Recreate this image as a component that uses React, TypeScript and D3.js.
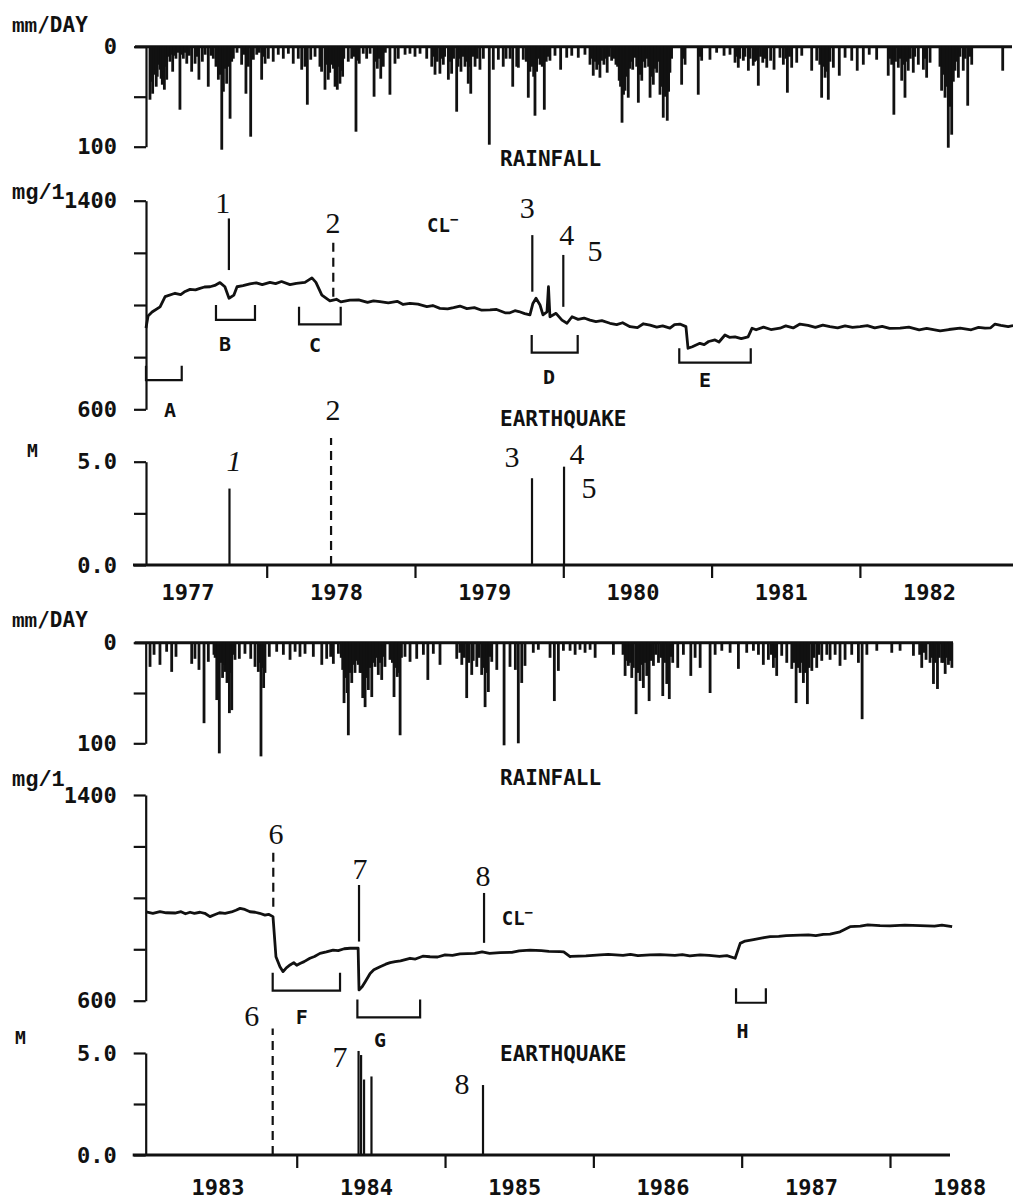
import React, { useEffect, useRef } from 'react';
import * as d3 from 'd3';

type Pt = [number, number];

// daily rainfall, [decimal year, mm/day]
const rain1977: Pt[] = [
  [1977.213, 53], [1977.231, 47], [1977.247, 20], [1977.262, 30], [1977.281, 23], [1977.296, 38], [1977.31, 43], [1977.326, 33],
  [1977.348, 15], [1977.366, 25], [1977.388, 12], [1977.415, 63], [1977.438, 12], [1977.461, 17], [1977.494, 25], [1977.517, 17],
  [1977.543, 33], [1977.566, 15], [1977.606, 40], [1977.64, 12], [1977.658, 20], [1977.674, 33], [1977.697, 103], [1977.73, 37],
  [1977.753, 72], [1977.775, 12], [1977.831, 18], [1977.86, 47], [1977.876, 20], [1977.892, 90], [1977.91, 13], [1977.933, 8],
  [1977.966, 33], [1977.989, 17], [1978.011, 12], [1978.044, 15], [1978.078, 8], [1978.112, 12], [1978.146, 7], [1978.179, 17],
  [1978.213, 12], [1978.236, 23], [1978.258, 20], [1978.274, 58], [1978.297, 13], [1978.326, 10], [1978.359, 20], [1978.393, 43],
  [1978.415, 33], [1978.438, 18], [1978.461, 40], [1978.476, 43], [1978.494, 37], [1978.512, 30], [1978.55, 15], [1978.573, 12],
  [1978.602, 85], [1978.624, 17], [1978.651, 7], [1978.674, 12], [1978.697, 7], [1978.724, 50], [1978.746, 22], [1978.769, 32],
  [1978.786, 20], [1978.831, 48], [1978.865, 17], [1978.887, 12], [1978.933, 8], [1978.966, 7], [1979.0, 10], [1979.034, 7],
  [1979.079, 12], [1979.113, 20], [1979.135, 28], [1979.168, 27], [1979.191, 18], [1979.225, 33], [1979.247, 27], [1979.281, 65],
  [1979.31, 25], [1979.337, 20], [1979.359, 37], [1979.376, 47], [1979.405, 20], [1979.438, 23], [1979.461, 12], [1979.501, 98],
  [1979.528, 23], [1979.562, 13], [1979.595, 20], [1979.614, 12], [1979.641, 12], [1979.659, 40], [1979.686, 20], [1979.697, 21],
  [1979.73, 13], [1979.764, 51], [1979.809, 69], [1979.843, 18], [1979.872, 63], [1979.91, 14], [1979.944, 9], [1979.982, 23],
  [1980.023, 11], [1980.057, 9], [1980.101, 11], [1980.146, 8], [1980.18, 18], [1980.202, 29], [1980.225, 23], [1980.247, 31],
  [1980.274, 18], [1980.296, 26], [1980.326, 14], [1980.355, 18], [1980.377, 34], [1980.396, 76], [1980.416, 44], [1980.438, 51],
  [1980.468, 23], [1980.483, 11], [1980.506, 56], [1980.529, 34], [1980.551, 21], [1980.585, 51], [1980.607, 38], [1980.63, 26],
  [1980.652, 48], [1980.674, 71], [1980.701, 74], [1980.719, 26], [1980.798, 38], [1980.821, 18], [1980.91, 48], [1980.933, 14],
  [1980.989, 13], [1981.034, 6], [1981.084, 9], [1981.124, 8], [1981.158, 16], [1981.18, 21], [1981.214, 14], [1981.248, 24],
  [1981.281, 19], [1981.315, 39], [1981.345, 16], [1981.372, 21], [1981.398, 14], [1981.421, 23], [1981.461, 11], [1981.484, 18],
  [1981.511, 46], [1981.54, 21], [1981.574, 16], [1981.608, 9], [1981.675, 24], [1981.709, 14], [1981.742, 51], [1981.765, 31],
  [1981.787, 53], [1981.821, 21], [1981.861, 29], [1981.9, 11], [1981.945, 14], [1981.982, 24], [1982.023, 18], [1982.063, 8],
  [1982.113, 13], [1982.191, 29], [1982.214, 18], [1982.229, 68], [1982.259, 21], [1982.282, 34], [1982.304, 51], [1982.326, 24],
  [1982.36, 26], [1982.394, 18], [1982.428, 23], [1982.45, 31], [1982.473, 16], [1982.551, 44], [1982.574, 51], [1982.596, 101],
  [1982.619, 88], [1982.641, 24], [1982.664, 31], [1982.697, 24], [1982.727, 59], [1982.754, 18], [1982.963, 24],
  // smaller days inside the wet spells
  [1977.22, 35], [1977.238, 28], [1977.255, 40], [1977.27, 18], [1977.288, 32], [1977.303, 25], [1977.318, 20], [1977.335, 10],
  [1977.356, 8], [1977.377, 9], [1977.4, 6], [1977.427, 8], [1977.45, 6], [1977.478, 9], [1977.53, 10], [1977.585, 8],
  [1977.625, 9], [1977.666, 15], [1977.685, 28], [1977.708, 45], [1977.72, 22], [1977.742, 20], [1977.764, 15], [1977.8, 6],
  [1977.845, 8], [1977.868, 12], [1977.9, 10], [1977.95, 6], [1977.978, 10], [1978.37, 25], [1978.405, 18], [1978.425, 26],
  [1978.45, 22], [1978.468, 30], [1978.485, 20], [1978.503, 24], [1978.52, 12], [1978.59, 10], [1978.612, 14], [1978.735, 15],
  [1978.758, 12], [1978.8, 6], [1979.125, 10], [1979.15, 15], [1979.18, 12], [1979.2, 10], [1979.236, 15], [1979.26, 12],
  [1979.29, 20], [1979.3, 12], [1979.325, 10], [1979.348, 15], [1979.367, 20], [1979.39, 10], [1979.42, 12], [1979.75, 15],
  [1979.775, 25], [1979.787, 20], [1979.8, 30], [1979.82, 25], [1979.832, 12], [1979.858, 20], [1979.885, 15], [1979.898, 10],
  [1980.19, 12], [1980.213, 15], [1980.236, 18], [1980.258, 14], [1980.285, 12], [1980.31, 10], [1980.34, 12], [1980.366, 20],
  [1980.386, 40], [1980.406, 48], [1980.427, 30], [1980.448, 22], [1980.458, 15], [1980.495, 20], [1980.518, 28], [1980.54, 15],
  [1980.565, 12], [1980.575, 20], [1980.596, 30], [1980.618, 22], [1980.64, 15], [1980.663, 40], [1980.688, 50], [1980.71, 45],
  [1980.73, 12], [1980.81, 12], [1980.92, 10], [1981.17, 10], [1981.19, 12], [1981.225, 10], [1981.26, 12], [1981.29, 15],
  [1981.305, 14], [1981.33, 10], [1981.36, 12], [1981.5, 12], [1981.525, 10], [1981.73, 18], [1981.753, 20], [1981.776, 25],
  [1981.798, 15], [1982.2, 12], [1982.24, 15], [1982.27, 12], [1982.293, 18], [1982.315, 15], [1982.34, 12], [1982.37, 10],
  [1982.44, 12], [1982.54, 20], [1982.562, 28], [1982.585, 40], [1982.607, 60], [1982.63, 35], [1982.652, 15], [1982.675, 10],
  [1982.71, 12], [1982.74, 10],
];

const rain1983: Pt[] = [
  [1983.011, 24], [1983.038, 12], [1983.078, 22], [1983.123, 9], [1983.157, 29], [1983.186, 14], [1983.292, 21], [1983.314, 16],
  [1983.341, 27], [1983.375, 80], [1983.404, 19], [1983.442, 12], [1983.461, 57], [1983.478, 110], [1983.517, 29], [1983.546, 70],
  [1983.562, 67], [1983.584, 17], [1983.613, 16], [1983.651, 11], [1983.69, 16], [1983.719, 24], [1983.741, 29], [1983.759, 113],
  [1983.786, 30], [1983.815, 14], [1983.865, 9], [1983.91, 12], [1983.955, 17], [1983.989, 9], [1984.022, 14], [1984.056, 11],
  [1984.112, 14], [1984.169, 22], [1984.202, 16], [1984.229, 14], [1984.247, 21], [1984.281, 11], [1984.31, 27], [1984.319, 60],
  [1984.348, 92], [1984.371, 40], [1984.393, 30], [1984.427, 30], [1984.445, 55], [1984.461, 64], [1984.483, 47], [1984.506, 54],
  [1984.528, 24], [1984.55, 32], [1984.573, 37], [1984.595, 24], [1984.629, 17], [1984.656, 54], [1984.678, 34], [1984.697, 92],
  [1984.73, 14], [1984.764, 19], [1984.809, 16], [1984.854, 12], [1984.884, 37], [1984.921, 11], [1984.966, 22], [1985.079, 16],
  [1985.113, 22], [1985.146, 55], [1985.18, 32], [1985.214, 24], [1985.247, 32], [1985.27, 64], [1985.292, 49], [1985.315, 19],
  [1985.349, 27], [1985.398, 102], [1985.438, 24], [1985.474, 27], [1985.494, 100], [1985.517, 40], [1985.539, 23], [1985.595, 10],
  [1985.629, 7], [1985.708, 15], [1985.737, 58], [1985.764, 28], [1985.798, 8], [1985.843, 8], [1985.877, 12], [1985.91, 7],
  [1985.944, 10], [1985.978, 7], [1986.012, 15], [1986.135, 12], [1986.214, 33], [1986.236, 23], [1986.259, 35], [1986.288, 71],
  [1986.315, 38], [1986.337, 45], [1986.36, 33], [1986.376, 58], [1986.405, 23], [1986.439, 20], [1986.468, 53], [1986.495, 41],
  [1986.512, 56], [1986.535, 20], [1986.569, 25], [1986.607, 12], [1986.657, 33], [1986.686, 15], [1986.72, 25], [1986.787, 50],
  [1986.821, 12], [1986.866, 8], [1986.922, 10], [1986.978, 26], [1987.034, 10], [1987.079, 8], [1987.113, 12], [1987.146, 22],
  [1987.18, 17], [1987.214, 25], [1987.236, 33], [1987.27, 13], [1987.304, 20], [1987.338, 26], [1987.367, 60], [1987.394, 30],
  [1987.416, 40], [1987.443, 61], [1987.473, 28], [1987.506, 25], [1987.54, 18], [1987.574, 12], [1987.596, 17], [1987.63, 12],
  [1987.663, 23], [1987.697, 17], [1987.742, 12], [1987.787, 20], [1987.812, 76], [1987.844, 12], [1987.911, 8], [1988.012, 10],
  [1988.068, 8], [1988.158, 13], [1988.214, 25], [1988.243, 17], [1988.27, 20], [1988.293, 41], [1988.32, 46], [1988.349, 20],
  [1988.372, 31], [1988.394, 22], [1988.417, 25],
  // smaller days inside the wet spells
  [1983.45, 15], [1983.47, 30], [1983.488, 20], [1983.5, 35], [1983.508, 22], [1983.53, 40], [1983.555, 30], [1983.572, 12],
  [1983.75, 20], [1983.768, 25], [1983.777, 45], [1984.3, 15], [1984.33, 35], [1984.34, 50], [1984.358, 30], [1984.382, 22],
  [1984.405, 18], [1984.415, 22], [1984.436, 30], [1984.453, 28], [1984.47, 35], [1984.492, 25], [1984.515, 20], [1984.54, 15],
  [1984.563, 20], [1984.584, 14], [1984.645, 20], [1984.667, 25], [1984.688, 30], [1984.706, 15], [1985.1, 10], [1985.13, 15],
  [1985.16, 20], [1985.19, 18], [1985.23, 15], [1985.26, 25], [1985.28, 30], [1985.302, 14], [1986.2, 12], [1986.225, 18],
  [1986.248, 20], [1986.27, 25], [1986.3, 30], [1986.325, 22], [1986.348, 20], [1986.368, 25], [1986.39, 18], [1986.42, 12],
  [1986.455, 15], [1986.48, 20], [1986.503, 25], [1986.522, 14], [1987.2, 12], [1987.225, 15], [1987.35, 20], [1987.38, 25],
  [1987.405, 20], [1987.428, 30], [1987.455, 25], [1987.487, 15], [1987.52, 12], [1988.2, 12], [1988.23, 10], [1988.28, 15],
  [1988.305, 20], [1988.333, 15], [1988.36, 20], [1988.38, 15], [1988.405, 18],
];

// chloride trace, [decimal year, mg/l]
const chloride1977: Pt[] = [
  [1977.186, 912], [1977.2, 958], [1977.227, 973], [1977.281, 993], [1977.315, 1032], [1977.382, 1045], [1977.483, 1060],
  [1977.55, 1064], [1977.618, 1070], [1977.685, 1086], [1977.718, 1070], [1977.746, 1026], [1977.779, 1038], [1977.8, 1070],
  [1977.887, 1081], [1978.022, 1087], [1978.157, 1078], [1978.258, 1087], [1978.305, 1104], [1978.332, 1087], [1978.372, 1038],
  [1978.426, 1016], [1978.561, 1019], [1978.763, 1013], [1978.966, 1006], [1979.168, 987], [1979.303, 996], [1979.506, 981],
  [1979.607, 970], [1979.674, 978], [1979.775, 962], [1979.795, 1006], [1979.816, 1026], [1979.843, 1000], [1979.863, 962],
  [1979.89, 974], [1979.9, 1070], [1979.91, 955], [1979.951, 968], [1979.991, 942], [1980.025, 930], [1980.059, 955],
  [1980.18, 942], [1980.315, 930], [1980.45, 917], [1980.585, 923], [1980.719, 911], [1980.786, 927], [1980.827, 917],
  [1980.841, 834], [1980.921, 853], [1981.023, 866], [1981.09, 885], [1981.158, 878], [1981.246, 878], [1981.273, 911],
  [1981.461, 911], [1981.596, 927], [1981.798, 917], [1982.001, 917], [1982.271, 911], [1982.541, 901], [1982.676, 911],
  [1982.844, 911], [1982.911, 927], [1983.033, 921],
  [1977.42, 1040], [1977.45, 1052], [1977.52, 1058], [1977.58, 1069], [1977.65, 1075], [1977.84, 1074], [1977.93, 1085],
  [1977.97, 1078], [1978.06, 1082], [1978.1, 1090], [1978.2, 1083], [1978.47, 1022], [1978.5, 1012], [1978.62, 1020],
  [1978.68, 1010], [1978.72, 1016], [1978.82, 1008], [1978.88, 1014], [1978.92, 1002], [1979.02, 1003], [1979.08, 994],
  [1979.12, 998], [1979.22, 985], [1979.26, 990], [1979.35, 986], [1979.4, 990], [1979.45, 980], [1979.55, 983],
  [1979.64, 970], [1979.7, 975], [1979.74, 967], [1980.1, 945], [1980.14, 950], [1980.22, 936], [1980.26, 940],
  [1980.36, 925], [1980.4, 932], [1980.5, 913], [1980.54, 928], [1980.63, 915], [1980.67, 920], [1980.75, 925],
  [1980.87, 840], [1980.95, 848], [1980.98, 860], [1981.05, 858], [1981.12, 876], [1981.2, 871], [1981.3, 905],
  [1981.35, 915], [1981.4, 906], [1981.5, 920], [1981.55, 912], [1981.65, 922], [1981.7, 914], [1981.75, 923],
  [1981.85, 912], [1981.9, 920], [1981.95, 914], [1982.05, 921], [1982.1, 912], [1982.15, 918], [1982.2, 910],
  [1982.33, 915], [1982.4, 905], [1982.45, 910], [1982.6, 906], [1982.75, 905], [1982.8, 914], [1982.88, 912],
  [1982.95, 922], [1983.0, 917],
];

const chloride1983: Pt[] = [
  [1982.984, 945], [1983.078, 946], [1983.179, 941], [1983.281, 944], [1983.348, 944], [1983.415, 927], [1983.517, 940],
  [1983.618, 959], [1983.685, 946], [1983.786, 933], [1983.84, 927], [1983.86, 771], [1983.887, 732], [1983.908, 713],
  [1983.955, 739], [1984.022, 745], [1984.089, 765], [1984.157, 784], [1984.245, 797], [1984.36, 804], [1984.414, 804],
  [1984.42, 642], [1984.441, 654], [1984.495, 706], [1984.562, 732], [1984.664, 752], [1984.764, 765], [1984.899, 771],
  [1985.101, 782], [1985.371, 787], [1985.573, 797], [1985.775, 791], [1985.843, 771], [1986.045, 778], [1986.382, 778],
  [1986.72, 778], [1986.956, 765], [1986.99, 823], [1987.023, 832], [1987.192, 849], [1987.394, 855], [1987.596, 859],
  [1987.663, 868], [1987.731, 888], [1987.933, 892], [1988.203, 892], [1988.419, 888],
  [1983.03, 940], [1983.12, 942], [1983.22, 946], [1983.25, 938], [1983.31, 940], [1983.38, 940], [1983.45, 935],
  [1983.48, 942], [1983.56, 945], [1983.59, 952], [1983.65, 955], [1983.72, 944], [1983.75, 940], [1983.81, 936],
  [1983.93, 728], [1983.98, 748], [1984.0, 738], [1984.05, 752], [1984.12, 772], [1984.2, 790], [1984.28, 795],
  [1984.32, 802], [1984.46, 672], [1984.52, 720], [1984.6, 742], [1984.63, 748], [1984.7, 755], [1984.8, 762],
  [1984.85, 773], [1984.95, 770], [1985.0, 778], [1985.05, 776], [1985.2, 784], [1985.25, 790], [1985.3, 784],
  [1985.45, 788], [1985.5, 794], [1985.65, 795], [1985.7, 792], [1985.8, 790], [1985.85, 772], [1985.95, 774],
  [1986.1, 780], [1986.2, 776], [1986.25, 780], [1986.3, 775], [1986.45, 779], [1986.55, 776], [1986.6, 779],
  [1986.65, 774], [1986.78, 776], [1986.85, 772], [1986.9, 775], [1987.08, 838], [1987.15, 845], [1987.25, 850],
  [1987.3, 853], [1987.45, 856], [1987.5, 853], [1987.55, 858], [1987.8, 890], [1987.85, 895], [1988.0, 891],
  [1988.1, 894], [1988.3, 890], [1988.35, 894],
];

// earthquakes, [decimal year, magnitude]
const quakes1977: Pt[] = [[1977.749, 3.7], [1979.789, 4.2], [1980.005, 4.76]];
const quakes1983: Pt[] = [[1984.417, 5.1], [1984.434, 4.9], [1984.454, 3.7], [1984.504, 3.85], [1985.256, 3.43]];
// distant shocks drawn dashed, [decimal year, top of the line in M units]
const farQuakes1977: Pt[] = [[1978.434, 6.15]];
const farQuakes1983: Pt[] = [[1983.838, 6.2]];

// event markers over the chloride trace: [year, from mg/l, to mg/l, dashed]
type Mark = [number, number, number, boolean];
const clMarks1977: Mark[] = [
  [1977.745, 1134, 1332, false], [1978.449, 1032, 1262, true], [1979.791, 1051, 1268, false], [1980.0, 993, 1192, false],
];
const clMarks1983: Mark[] = [
  [1983.842, 965, 1192, true], [1984.42, 830, 1050, false], [1985.263, 825, 1019, false],
];

// event numbers: [text, year, value at the label centre]
type Num = [string, number, number];
const clNumbers1977: Num[] = [['1', 1977.703, 1393], ['2', 1978.447, 1316], ['3', 1979.757, 1372], ['4', 1980.023, 1268], ['5', 1980.214, 1207]];
const mNumbers1977: Num[] = [['1', 1977.78, 5.03], ['2', 1978.447, 7.5], ['3', 1979.654, 5.23], ['4', 1980.092, 5.37], ['5', 1980.173, 3.73]];
const clNumbers1983: Num[] = [['6', 1983.86, 1248], ['7', 1984.427, 1112], ['8', 1985.256, 1085]];
const mNumbers1983: Num[] = [['6', 1983.697, 6.81], ['7', 1984.292, 4.8], ['8', 1985.115, 3.48]];

// response periods: [letter, from year, to year, lower mg/l, upper mg/l, letter year, letter mg/l]
type Span = [string, number, number, number, number, number, number];
const spans1977: Span[] = [
  ['A', 1977.186, 1977.427, 712, 767, 1977.348, 601],
  ['B', 1977.658, 1977.921, 943, 1000, 1977.719, 854],
  ['C', 1978.218, 1978.499, 926, 993, 1978.326, 850],
  ['D', 1979.787, 1980.097, 817, 885, 1979.904, 724],
  ['E', 1980.782, 1981.264, 779, 834, 1980.956, 716],
];
const spans1983: Span[] = [
  ['F', 1983.838, 1984.292, 639, 709, 1984.034, 537],
  ['G', 1984.409, 1984.832, 535, 605, 1984.562, 451],
  ['H', 1986.962, 1987.163, 592, 648, 1987.005, 486],
];

// CL- label anchor, [year, mg/l]
const clLabel1977: Pt = [1979.081, 1307];
const clLabel1983: Pt = [1985.382, 922];

const years1977 = [1977, 1978, 1979, 1980, 1981, 1982];
const years1983 = [1983, 1984, 1985, 1986, 1987, 1988];
const rainTicks = [0, 50, 100];
const clTicks = [600, 800, 1000, 1200, 1400];
const mTicks = [0, 2.5, 5];

const MONO = '"DejaVu Sans Mono", "Liberation Mono", monospace';
const COURIER = '"Liberation Mono", "DejaVu Sans Mono", monospace';
const SERIF = '"Liberation Serif", "DejaVu Serif", serif';
const INK = '#111';

const panels = [
  {
    rain: rain1977, cl: chloride1977, quakes: quakes1977, far: farQuakes1977, marks: clMarks1977,
    clNums: clNumbers1977, mNums: mNumbers1977, spans: spans1977, clLabel: clLabel1977, years: years1977,
    domain: [1977, 1983], xRange: [118.4, 1008.2], axisX: 146,
    rainY: [46.7, 146.7], rainEnd: 1012, clY: [409.3, 200.7], mY: [565, 461.7], mEnd: 1013,
    mmY: 32, mgY: 199, mX: 27, mLabelY: 457, rainTitleY: 166, quakeTitleY: 426, yearY: 600,
  },
  {
    rain: rain1983, cl: chloride1983, quakes: quakes1983, far: farQuakes1983, marks: clMarks1983,
    clNums: clNumbers1983, mNums: mNumbers1983, spans: spans1983, clLabel: clLabel1983, years: years1983,
    domain: [1983, 1988], xRange: [148.4, 890], axisX: 145.7,
    rainY: [642.7, 743.3], rainEnd: 953, clY: [1000.7, 795], mY: [1155, 1053], mEnd: 950,
    mmY: 627, mgY: 786, mX: 15, mLabelY: 1044, rainTitleY: 785, quakeTitleY: 1061, yearY: 1195,
  },
];

function drawPanel(svg: any, p: any, italicOne: boolean) {
  const x = d3.scaleLinear().domain(p.domain).range(p.xRange);
  const yRain = d3.scaleLinear().domain([0, 100]).range(p.rainY);
  const yCl = d3.scaleLinear().domain([600, 1400]).range(p.clY);
  const yM = d3.scaleLinear().domain([0, 5]).range(p.mY);
  const g = svg.append('g');

  const styleAxis = (sel: any) => {
    sel.attr('font-family', MONO).attr('font-size', 22).attr('font-weight', 'bold');
    sel.select('.domain').attr('stroke', INK).attr('stroke-width', 2.2);
    sel.selectAll('.tick line').attr('stroke', INK).attr('stroke-width', 2.2);
    sel.selectAll('.tick text').attr('fill', INK);
  };

  // rainfall axis, zero line and bars
  g.append('g')
    .attr('transform', `translate(${p.axisX},0)`)
    .call(d3.axisLeft(yRain).tickValues(rainTicks).tickSize(12).tickSizeOuter(0).tickPadding(17)
      .tickFormat((d: any) => (d === 50 ? '' : String(d))))
    .call(styleAxis);

  g.append('line')
    .attr('x1', p.axisX - 11).attr('x2', p.rainEnd)
    .attr('y1', yRain(0)).attr('y2', yRain(0))
    .attr('stroke', INK).attr('stroke-width', 3);

  g.append('g').selectAll('rect')
    .data(p.rain)
    .join('rect')
    .attr('x', (d: Pt) => x(d[0]) - 1.4)
    .attr('y', yRain(0))
    .attr('width', 2.8)
    .attr('height', (d: Pt) => yRain(d[1]) - yRain(0))
    .attr('fill', INK);

  // chloride axis and trace
  g.append('g')
    .attr('transform', `translate(${p.axisX},0)`)
    .call(d3.axisLeft(yCl).tickValues(clTicks).tickSize(12).tickSizeOuter(0).tickPadding(17)
      .tickFormat((d: any) => (d === 600 || d === 1400 ? String(d) : '')))
    .call(styleAxis);

  const clLine = d3.line<Pt>().x(d => x(d[0])).y(d => yCl(d[1]));
  g.append('path')
    .datum([...p.cl].sort((a: Pt, b: Pt) => a[0] - b[0]))
    .attr('fill', 'none')
    .attr('stroke', INK)
    .attr('stroke-width', 2.8)
    .attr('stroke-linejoin', 'round')
    .attr('d', clLine);

  // event markers on the trace
  p.marks.forEach((m: Mark) => {
    g.append('line')
      .attr('x1', x(m[0])).attr('x2', x(m[0]))
      .attr('y1', yCl(m[1])).attr('y2', yCl(m[2]))
      .attr('stroke', INK).attr('stroke-width', 2.2)
      .attr('stroke-dasharray', m[3] ? '9,6' : null);
  });

  // response brackets
  p.spans.forEach((s: Span) => {
    g.append('path')
      .attr('d', `M${x(s[1])},${yCl(s[4])}V${yCl(s[3])}H${x(s[2])}V${yCl(s[4])}`)
      .attr('fill', 'none').attr('stroke', INK).attr('stroke-width', 2.2);
    g.append('text')
      .attr('x', x(s[5])).attr('y', yCl(s[6]) + 7.5)
      .attr('text-anchor', 'middle')
      .attr('font-family', MONO).attr('font-size', 20).attr('font-weight', 'bold').attr('fill', INK)
      .text(s[0]);
  });

  // earthquake axis, baseline, year ticks
  g.append('g')
    .attr('transform', `translate(${p.axisX},0)`)
    .call(d3.axisLeft(yM).tickValues(mTicks).tickSize(12).tickSizeOuter(0).tickPadding(17)
      .tickFormat((d: any) => (d === 2.5 ? '' : d3.format('.1f')(d))))
    .call(styleAxis);

  g.append('line')
    .attr('x1', p.axisX - 13).attr('x2', p.mEnd)
    .attr('y1', yM(0)).attr('y2', yM(0))
    .attr('stroke', INK).attr('stroke-width', 2.8);

  g.append('g')
    .attr('transform', `translate(0,${yM(0)})`)
    .call(d3.axisBottom(x).tickValues(p.years.slice(1)).tickSize(13).tickFormat(() => ''))
    .call((sel: any) => {
      sel.select('.domain').remove();
      sel.selectAll('.tick line').attr('stroke', INK).attr('stroke-width', 2.2);
    });

  g.append('g').selectAll('text')
    .data(p.years)
    .join('text')
    .attr('x', (d: number) => x(d + 0.47))
    .attr('y', p.yearY)
    .attr('text-anchor', 'middle')
    .attr('font-family', MONO).attr('font-size', 22).attr('font-weight', 'bold').attr('fill', INK)
    .text((d: number) => String(d));

  g.append('g').selectAll('line')
    .data(p.quakes)
    .join('line')
    .attr('x1', (d: Pt) => x(d[0])).attr('x2', (d: Pt) => x(d[0]))
    .attr('y1', yM(0)).attr('y2', (d: Pt) => yM(d[1]))
    .attr('stroke', INK).attr('stroke-width', 2.2);

  g.append('g').selectAll('line')
    .data(p.far)
    .join('line')
    .attr('x1', (d: Pt) => x(d[0])).attr('x2', (d: Pt) => x(d[0]))
    .attr('y1', yM(0)).attr('y2', (d: Pt) => yM(d[1]))
    .attr('stroke', INK).attr('stroke-width', 2.2).attr('stroke-dasharray', '9,6');

  // event numbers
  const number = (n: Num, y: number, italic: boolean) => {
    g.append('text')
      .attr('x', x(n[1])).attr('y', y + 10)
      .attr('text-anchor', 'middle')
      .attr('font-family', SERIF).attr('font-size', 30).attr('fill', INK)
      .attr('font-style', italic ? 'italic' : 'normal')
      .text(n[0]);
  };
  p.clNums.forEach((n: Num) => number(n, yCl(n[2]), false));
  p.mNums.forEach((n: Num) => number(n, yM(n[2]), italicOne && n[0] === '1'));

  // CL- label
  const cl = g.append('text')
    .attr('x', x(p.clLabel[0])).attr('y', yCl(p.clLabel[1]) + 7)
    .attr('font-family', MONO).attr('font-size', 19).attr('font-weight', 'bold').attr('fill', INK);
  cl.append('tspan').text('CL');
  cl.append('tspan').attr('dy', -8).attr('font-size', 14).text('\u2212');

  // panel titles and units
  const unit = g.append('text').attr('x', 12).attr('y', p.mmY).attr('fill', INK).attr('font-size', 21);
  unit.append('tspan').attr('font-family', COURIER).attr('font-weight', 'bold').text('mm');
  unit.append('tspan').attr('font-family', MONO).attr('font-weight', 'bold').text('/DAY');

  g.append('text').attr('x', 12).attr('y', p.mgY)
    .attr('font-family', COURIER).attr('font-weight', 'bold').attr('font-size', 22).attr('fill', INK)
    .text('mg/1');

  g.append('text').attr('x', p.mX).attr('y', p.mLabelY)
    .attr('font-family', MONO).attr('font-weight', 'bold').attr('font-size', 18).attr('fill', INK)
    .text('M');

  g.append('text').attr('x', 500).attr('y', p.rainTitleY)
    .attr('font-family', MONO).attr('font-weight', 'bold').attr('font-size', 21).attr('fill', INK)
    .text('RAINFALL');

  g.append('text').attr('x', 500).attr('y', p.quakeTitleY)
    .attr('font-family', MONO).attr('font-weight', 'bold').attr('font-size', 21).attr('fill', INK)
    .text('EARTHQUAKE');
}

export default function App() {
  const svgRef = useRef<SVGSVGElement>(null);

  useEffect(() => {
    const svg = d3.select(svgRef.current);
    svg.selectAll('*').remove();
    svg.append('rect').attr('width', 1013).attr('height', 1200).attr('fill', '#fff');
    panels.forEach((p, i) => drawPanel(svg, p, i === 0));
  }, []);

  return (
    <svg
      ref={svgRef}
      width={1013}
      height={1200}
      style={{ position: 'absolute', left: 0, top: 0, display: 'block' }}
    />
  );
}
